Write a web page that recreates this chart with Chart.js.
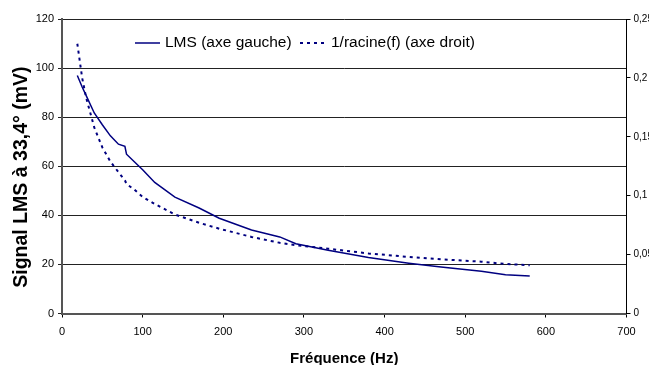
<!DOCTYPE html>
<html lang="fr">
<head>
<meta charset="UTF-8" />
<title>Signal LMS</title>
<script src="https://cdn.jsdelivr.net/npm/chart.js"></script>
<style>
  body { margin: 0; background: #fff; }
  #wrap { width: 649px; height: 365px; }
</style>
</head>
<body>
<div id="wrap"><canvas id="chart" width="649" height="365"></canvas></div>
<script>
// fréquences (Hz), communes aux deux courbes
const freq = [19, 25, 30, 40, 50, 60, 70, 78, 80, 90, 100, 115, 140, 170, 195, 235, 270, 290, 330, 380, 430, 470, 520, 550, 580];
// signal LMS (mV), axe gauche
const lms = [97, 92.3, 88.8, 81.7, 76.9, 72.4, 69, 68.1, 64.9, 61.7, 58.6, 53.4, 47.4, 43, 38.8, 34, 31.2, 28.4, 25.8, 22.8, 20.5, 18.9, 17.2, 15.8, 15.3];
// 1/racine(f), axe droit
const invRoot = [0.229, 0.2, 0.183, 0.158, 0.141, 0.129, 0.12, 0.113, 0.11, 0.105, 0.099, 0.093, 0.084, 0.077, 0.072, 0.065, 0.06, 0.058, 0.055, 0.051, 0.048, 0.046, 0.044, 0.042, 0.041];

const seriesLabels = ["LMS (axe gauche)", "1/racine(f) (axe droit)"];
const navy = "#000080";

// légende dessinée à l'intérieur du graphique, comme dans Excel
const innerLegend = {
  id: "innerLegend",
  afterDraw(chart) {
    const ctx = chart.ctx;
    const y = 43;
    ctx.save();
    ctx.font = "15.5px 'Liberation Sans', Arial, sans-serif";
    ctx.fillStyle = "#000";
    ctx.textBaseline = "middle";
    ctx.strokeStyle = navy;

    ctx.lineWidth = 1.5;
    ctx.setLineDash([]);
    ctx.beginPath(); ctx.moveTo(135, y); ctx.lineTo(160, y); ctx.stroke();
    ctx.fillText(chart.data.datasets[0].label, 165, y);

    ctx.lineWidth = 2;
    ctx.setLineDash([3, 4]);
    ctx.beginPath(); ctx.moveTo(300, y); ctx.lineTo(327, y); ctx.stroke();
    ctx.setLineDash([]);
    ctx.fillText(chart.data.datasets[1].label, 331, y);
    ctx.restore();
  }
};

const ctx = document.getElementById("chart").getContext("2d");
new Chart(ctx, {
  type: "line",
  data: {
    datasets: [
      {
        label: seriesLabels[0],
        data: freq.map((f, i) => ({ x: f, y: lms[i] })),
        borderColor: navy,
        borderWidth: 1.5,
        pointRadius: 0,
        tension: 0,
        yAxisID: "y",
      },
      {
        label: seriesLabels[1],
        data: freq.map((f, i) => ({ x: f, y: invRoot[i] })),
        borderColor: navy,
        borderWidth: 2,
        borderDash: [3, 4],
        pointRadius: 0,
        tension: 0,
        yAxisID: "y2",
      },
    ],
  },
  options: {
    responsive: false,
    animation: false,
    layout: { padding: { top: 19, left: 0, right: 0, bottom: 0 } },
    plugins: { legend: { display: false }, tooltip: { enabled: false } },
    scales: {
      x: {
        type: "linear",
        min: 0,
        max: 700,
        ticks: {
          stepSize: 100,
          padding: 8,
          color: "#000",
          font: { family: "'Liberation Sans', Arial, sans-serif", size: 11 },
        },
        grid: { drawOnChartArea: false, tickLength: 4, color: "#000" },
        border: { color: "#555", width: 2 },
        title: {
          display: true,
          text: "Fréquence (Hz)",
          color: "#000",
          padding: { top: 0, bottom: -3 },
          font: { family: "'Liberation Sans', Arial, sans-serif", size: 15, weight: "bold" },
        },
        afterFit(scale) { scale.height = 51.5; },
      },
      y: {
        position: "left",
        min: 0,
        max: 120,
        ticks: {
          stepSize: 20,
          padding: 4,
          color: "#000",
          font: { family: "'Liberation Sans', Arial, sans-serif", size: 11 },
        },
        grid: { color: "#222", tickLength: 4 },
        border: { color: "#555", width: 2 },
        title: {
          display: true,
          // trailing no-break spaces push the title a little lower, as in the original
          text: "Signal LMS à 33,4° (mV)\u00a0\u00a0\u00a0\u00a0",
          color: "#000",
          padding: { top: 10, bottom: 0 },
          font: { family: "'Liberation Sans', Arial, sans-serif", size: 19.5, weight: "bold" },
        },
        afterFit(scale) { scale.width = 62; },
      },
      y2: {
        position: "right",
        min: 0,
        max: 0.25,
        ticks: {
          stepSize: 0.05,
          padding: 3,
          color: "#000",
          font: { family: "'Liberation Sans', Arial, sans-serif", size: 10 },
          callback: (v) => String(Math.round(v * 100) / 100).replace(".", ","),
        },
        grid: { drawOnChartArea: false, tickLength: 4, color: "#000" },
        border: { color: "#000", width: 1 },
        afterFit(scale) { scale.width = 22.5; },
      },
    },
  },
  plugins: [innerLegend],
});
</script>
</body>
</html>
